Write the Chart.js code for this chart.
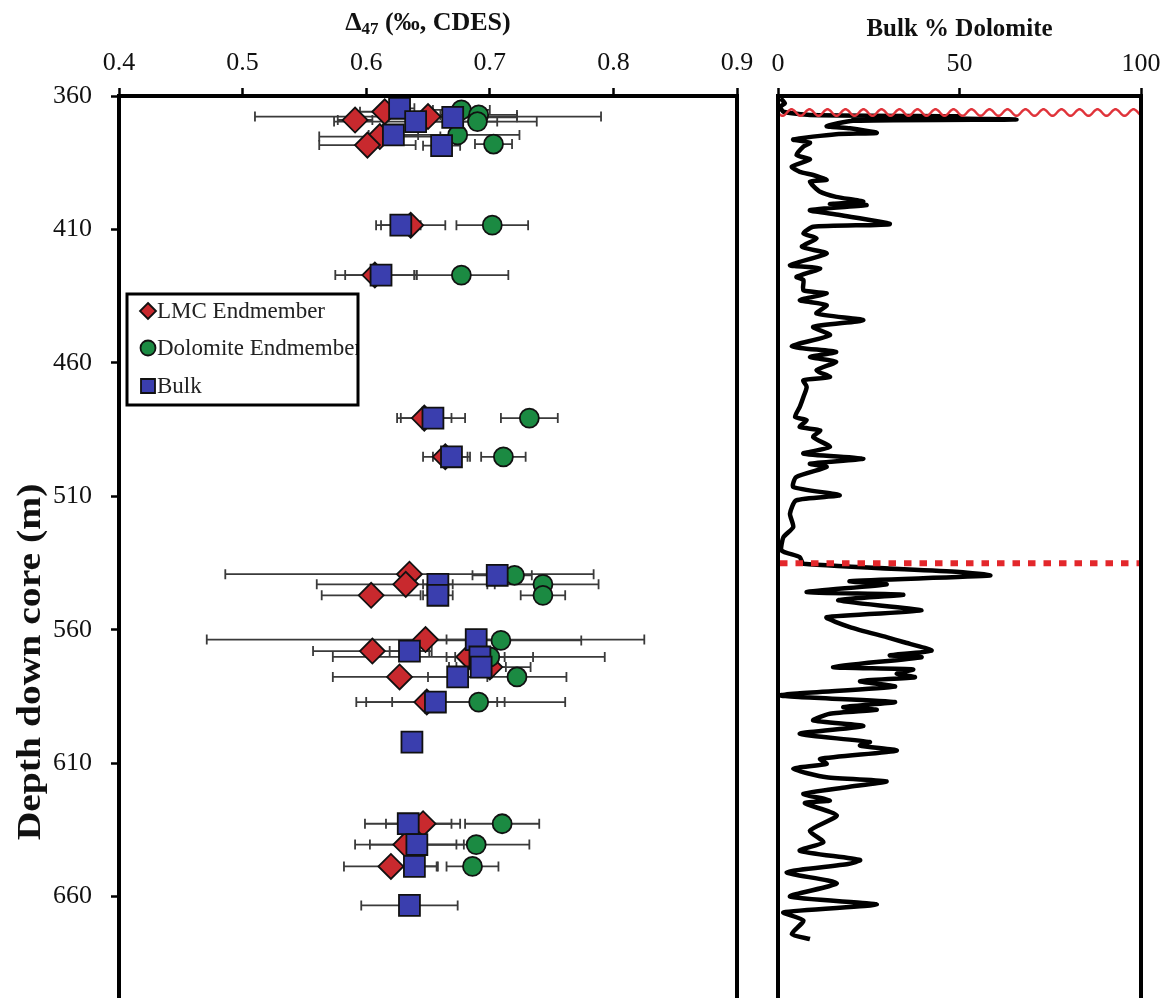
<!DOCTYPE html>
<html>
<head>
<meta charset="utf-8">
<title>Clumped isotopes vs depth</title>
<script src="https://cdn.jsdelivr.net/npm/chart.js@4.4.1/dist/chart.umd.min.js"></script>
<style>
    html, body { margin: 0; padding: 0; background: #fff; }
    #wrap { position: relative; width: 1165px; height: 998px; overflow: hidden; }
    .panel { position: absolute; top: 0; height: 998px; }
    #leftPanel { left: 0; width: 760px; }
    #rightPanel { left: 760px; width: 405px; }
</style>
</head>
<body>
<div id="wrap">
    <div class="panel" id="leftPanel"><canvas id="d47Chart"></canvas></div>
    <div class="panel" id="rightPanel"><canvas id="dolChart"></canvas></div>
</div>
<script>
// axes
const depthMin = 360;
const depthMax = 698;
const depthTicks = [360, 410, 460, 510, 560, 610, 660];
const d47Ticks = [0.4, 0.5, 0.6, 0.7, 0.8, 0.9];
const dolomiteTicks = [0, 50, 100];

// LMC endmember
const lmcDepth = [365.9, 367.7, 369.0, 375.2, 378.4, 408.4, 427.1, 480.7, 495.2, 539.2, 543.0, 547.1, 563.7, 568.0, 570.2, 574.0, 577.7, 587.1, 632.7, 640.5, 648.7];
const lmcD47   = [0.615, 0.650, 0.591, 0.611, 0.601, 0.636, 0.607, 0.647, 0.664, 0.635, 0.632, 0.604, 0.648, 0.605, 0.683, 0.700, 0.627, 0.649, 0.646, 0.632, 0.620];
const lmcErr   = [0.020, 0.140, 0.014, 0.049, 0.039, 0.028, 0.032, 0.022, 0.018, 0.149, 0.072, 0.040, 0.177, 0.048, 0.110, 0.033, 0.054, 0.057, 0.030, 0.041, 0.038];

// Dolomite endmember
const dolDepth = [365.2, 367.1, 369.6, 374.6, 378.0, 408.4, 427.1, 480.7, 495.2, 539.6, 543.0, 547.1, 564.0, 570.2, 577.7, 587.1, 632.7, 640.5, 648.7];
const dolD47   = [0.677, 0.691, 0.690, 0.674, 0.703, 0.702, 0.677, 0.732, 0.711, 0.720, 0.743, 0.743, 0.709, 0.700, 0.722, 0.691, 0.710, 0.689, 0.686];
const dolErr   = [0.023, 0.031, 0.048, 0.050, 0.015, 0.029, 0.038, 0.023, 0.018, 0.014, 0.045, 0.018, 0.065, 0.035, 0.040, 0.070, 0.030, 0.043, 0.021];

// Bulk
const bulkDepth = [364.6, 368.0, 369.6, 374.6, 378.6, 408.4, 427.1, 480.7, 495.2, 539.6, 543.0, 547.1, 563.7, 568.0, 570.2, 574.0, 577.7, 587.1, 602.1, 632.7, 640.5, 648.7, 663.3];
const bulkD47   = [0.627, 0.670, 0.640, 0.622, 0.661, 0.628, 0.612, 0.654, 0.669, 0.706, 0.658, 0.658, 0.689, 0.635, 0.692, 0.693, 0.674, 0.656, 0.637, 0.634, 0.641, 0.639, 0.635];
const bulkErr   = [0.012, 0.052, 0.066, 0.020, 0.015, 0.016, 0.029, 0.026, 0.015, 0.020, 0.012, 0.012, 0.024, 0.016, 0.020, 0.020, 0.024, 0.056, 0, 0.035, 0.038, 0.018, 0.039];

// bulk % dolomite log
const coreDepth = [360.9, 362.8, 364.0, 365.9, 367.1, 367.6, 367.9, 368.8, 369.3, 371.3,
    372.1, 373.8, 374.3, 376.3, 377.5, 379.0, 382.1, 383.8, 386.5, 388.4,
    389.6, 391.5, 392.1, 395.9, 397.8, 399.6, 400.5, 400.9, 402.8, 404.6,
    408.0, 409.0, 411.5, 413.4, 416.5, 419.0, 423.4, 424.6, 427.8, 429.0,
    432.8, 434.0, 436.5, 438.4, 441.5, 444.0, 446.5, 449.6, 453.8, 455.9,
    457.8, 459.6, 462.8, 465.3, 466.5, 469.0, 472.8, 476.5, 480.3, 481.5,
    484.0, 485.3, 487.8, 491.5, 494.0, 495.9, 497.8, 499.0, 502.8, 506.5,
    509.6, 511.5, 516.5, 521.5, 525.3, 530.3, 532.8, 535.3, 538.4, 539.7,
    541.8, 543.0, 545.9, 546.9, 549.0, 552.8, 555.3, 559.0, 562.8, 564.6,
    567.8, 569.6, 570.3, 574.0, 574.9, 576.5, 577.8, 579.3, 581.3, 584.6,
    587.1, 589.0, 590.0, 591.5, 594.0, 596.1, 599.0, 602.1, 603.4, 605.3,
    608.4, 610.3, 612.1, 615.3, 616.8, 619.0, 621.5, 624.0, 625.0, 629.6,
    635.3, 639.6, 642.8, 646.3, 647.8, 650.9, 655.0, 660.0, 663.0, 665.9,
    669.0, 674.0, 675.9];
const coreDolomite = [0.7, 1.9, 0.6, 1.5, 8.8, 50, 20.7, 65.7, 20.7, 13.4,
    19.8, 27.2, 16, 4.2, 8.8, 7.0, 5.1, 8.8, 3.8, 6.0,
    9.7, 13.4, 8.8, 11.6, 16.0, 23.5, 14.3, 24.4, 8.8, 17.0,
    30.8, 9.7, 7.0, 10.6, 6.6, 13.4, 3.3, 11.6, 5.1, 7,
    7, 13.4, 6, 13.4, 10.6, 23.5, 9.7, 14.3, 3.8, 16,
    8.8, 16, 10.6, 14.3, 7, 7.9, 7, 6, 4.7, 7.9,
    6, 11.6, 9.7, 14.3, 7, 23.5, 8.8, 13.4, 5, 4.2,
    17, 5, 3.3, 4.2, 1.5, 1, 6, 7, 50, 58.4,
    19.8, 29.9, 7.9, 34.5, 16.6, 39.5, 13.4, 19.8, 29.9, 34.5,
    42.3, 30.8, 39.5, 15.2, 37.2, 32.7, 37.7, 22.6, 32.2, 0.6,
    32.2, 18, 27.2, 14.3, 9.7, 23.5, 6, 25.3, 22.6, 32.7,
    11.6, 13.4, 4.2, 13.4, 29.9, 18.9, 7, 14.3, 7.4, 16.2,
    8.8, 12.5, 6, 22.6, 19.3, 2.4, 16.2, 3.3, 27.2, 1.5,
    7, 3.8, 8.8];

// horizons drawn across the dolomite log
const unconformityDepth = 366.2;
const boundaryDepth = 535.1;

const serif = '"Liberation Serif", "Times New Roman", serif';
const RED = '#c8292e';
const GREEN = '#1b8a42';
const BLUE = '#3a3eae';

Chart.defaults.font.family = serif;
Chart.defaults.color = '#111';

function toPoints(depths, values, errs) {
    return depths.map((d, i) => ({ x: values[i], y: d, err: errs ? errs[i] : 0 }));
}

// fixed axis boxes so both panels line up
function fitTop(s) {
    s.height = 96;
    s.paddingLeft = 0;
    s.paddingRight = 0;
}
function fitLeft(width) {
    return s => {
        s.width = width;
        s.paddingTop = 0;
        s.paddingBottom = 0;
    };
}

function drawFrame(chart) {
    const { ctx, chartArea: a } = chart;
    ctx.save();
    ctx.strokeStyle = '#000';
    ctx.lineWidth = 4;
    ctx.beginPath();
    ctx.moveTo(a.left, chart.height);
    ctx.lineTo(a.left, a.top);
    ctx.lineTo(a.right, a.top);
    ctx.lineTo(a.right, chart.height);
    ctx.stroke();
    ctx.restore();
}

const errorBarPlugin = {
    id: 'errorBars',
    beforeDatasetsDraw(chart) {
        const { ctx, scales: { x, y } } = chart;
        ctx.save();
        ctx.strokeStyle = '#3a3a3a';
        ctx.lineWidth = 1.8;
        chart.data.datasets.forEach(ds => {
            ds.data.forEach(p => {
                if (!p.err) return;
                const py = y.getPixelForValue(p.y);
                const x0 = x.getPixelForValue(p.x - p.err);
                const x1 = x.getPixelForValue(p.x + p.err);
                ctx.beginPath();
                ctx.moveTo(x0, py); ctx.lineTo(x1, py);
                ctx.moveTo(x0, py - 5); ctx.lineTo(x0, py + 5);
                ctx.moveTo(x1, py - 5); ctx.lineTo(x1, py + 5);
                ctx.stroke();
            });
        });
        ctx.restore();
    }
};

function drawMarker(ctx, style, x, y, r, fill) {
    ctx.beginPath();
    if (style === 'rectRot') {
        ctx.moveTo(x, y - r); ctx.lineTo(x + r, y); ctx.lineTo(x, y + r); ctx.lineTo(x - r, y);
        ctx.closePath();
    } else if (style === 'rect') {
        ctx.rect(x - r, y - r, 2 * r, 2 * r);
    } else {
        ctx.arc(x, y, r, 0, Math.PI * 2);
    }
    ctx.fillStyle = fill;
    ctx.fill();
    ctx.lineWidth = 1.8;
    ctx.strokeStyle = '#111';
    ctx.stroke();
}

const leftDecorPlugin = {
    id: 'leftDecor',
    afterDraw(chart) {
        const { ctx, chartArea: a, scales: { y } } = chart;
        drawFrame(chart);
        ctx.save();
        ctx.fillStyle = '#111';

        // depth tick labels (drawn here so they do not shrink the plot area)
        ctx.font = '26px ' + serif;
        ctx.textAlign = 'right';
        ctx.textBaseline = 'middle';
        depthTicks.forEach(t => ctx.fillText(String(t), a.left - 27, y.getPixelForValue(t)));

        ctx.textAlign = 'left';

        // title with subscript
        const big = 'bold 26px ' + serif;
        const small = 'bold 17px ' + serif;
        ctx.font = big;
        const w1 = ctx.measureText('\u0394').width;
        const w3 = ctx.measureText(' (\u2030, CDES)').width;
        ctx.font = small;
        const w2 = ctx.measureText('47').width;
        const tx = (a.left + a.right) / 2 - (w1 + w2 + w3) / 2;
        const ty = 23;
        ctx.font = big;
        ctx.fillText('\u0394', tx, ty);
        ctx.font = small;
        ctx.fillText('47', tx + w1, ty + 7);
        ctx.font = big;
        ctx.fillText(' (\u2030, CDES)', tx + w1 + w2, ty);

        // y axis title
        ctx.save();
        ctx.translate(31, 662);
        ctx.rotate(-Math.PI / 2);
        ctx.scale(1.2, 1);
        ctx.textAlign = 'center';
        ctx.font = 'bold 33px ' + serif;
        ctx.fillText('Depth down core (m)', 0, 0);
        ctx.restore();

        // legend box
        const lx = 127, ly = 294, lw = 231, lh = 111;
        ctx.fillStyle = '#fff';
        ctx.fillRect(lx, ly, lw, lh);
        const items = [
            { label: 'LMC Endmember', style: 'rectRot', r: 8, color: RED, y: 311 },
            { label: 'Dolomite Endmember', style: 'circle', r: 7.5, color: GREEN, y: 348 },
            { label: 'Bulk', style: 'rect', r: 7, color: BLUE, y: 386 }
        ];
        ctx.save();
        ctx.beginPath();
        ctx.rect(lx, ly, lw, lh);
        ctx.clip();
        items.forEach(it => {
            drawMarker(ctx, it.style, 148, it.y, it.r, it.color);
            ctx.fillStyle = '#222';
            ctx.font = '23px ' + serif;
            ctx.fillText(it.label, 157, it.y + 1);
        });
        ctx.restore();
        ctx.strokeStyle = '#000';
        ctx.lineWidth = 3;
        ctx.strokeRect(lx, ly, lw, lh);
        ctx.restore();
    }
};

const rightDecorPlugin = {
    id: 'rightDecor',
    afterDatasetsDraw(chart) {
        const { ctx, chartArea: a, scales: { y } } = chart;
        ctx.save();
        // wavy unconformity
        const wy = y.getPixelForValue(unconformityDepth);
        ctx.strokeStyle = '#e0333a';
        ctx.lineWidth = 2.4;
        ctx.beginPath();
        for (let px = a.left; px <= a.right; px += 1) {
            const yy = wy + 3.3 * Math.sin((px - a.left) / 18 * 2 * Math.PI);
            if (px === a.left) ctx.moveTo(px, yy); else ctx.lineTo(px, yy);
        }
        ctx.stroke();
        // dashed boundary
        const by = y.getPixelForValue(boundaryDepth);
        ctx.strokeStyle = '#e3272b';
        ctx.lineWidth = 6;
        ctx.setLineDash([7.5, 8]);
        ctx.beginPath();
        ctx.moveTo(a.left + 2, by);
        ctx.lineTo(a.right, by);
        ctx.stroke();
        ctx.restore();
    },
    afterDraw(chart) {
        const { ctx, chartArea: a } = chart;
        drawFrame(chart);
        ctx.save();
        ctx.fillStyle = '#111';
        ctx.textAlign = 'center';
        ctx.textBaseline = 'middle';
        ctx.font = 'bold 25px ' + serif;
        ctx.fillText('Bulk % Dolomite', (a.left + a.right) / 2, 30);
        ctx.restore();
    }
};

const tickFont = { family: serif, size: 26 };

new Chart(document.getElementById('d47Chart').getContext('2d'), {
    type: 'scatter',
    data: {
        datasets: [
            {
                label: 'LMC Endmember',
                data: toPoints(lmcDepth, lmcD47, lmcErr),
                pointStyle: 'rectRot',
                pointRadius: 12.5,
                backgroundColor: RED,
                borderColor: '#111',
                borderWidth: 1.8,
                order: 2
            },
            {
                label: 'Dolomite Endmember',
                data: toPoints(dolDepth, dolD47, dolErr),
                pointStyle: 'circle',
                pointRadius: 9.5,
                backgroundColor: GREEN,
                borderColor: '#111',
                borderWidth: 1.8,
                order: 1
            },
            {
                label: 'Bulk',
                data: toPoints(bulkDepth, bulkD47, bulkErr),
                pointStyle: 'rect',
                pointRadius: 14.8,
                backgroundColor: BLUE,
                borderColor: '#111',
                borderWidth: 1.8,
                order: 0
            }
        ]
    },
    options: {
        responsive: true,
        maintainAspectRatio: false,
        animation: false,
        layout: { autoPadding: false, padding: { left: 0, right: 23, top: 0, bottom: 0 } },
        plugins: { legend: { display: false }, tooltip: { enabled: false } },
        scales: {
            x: {
                type: 'linear',
                position: 'top',
                min: 0.4,
                max: 0.9,
                afterBuildTicks: s => { s.ticks = d47Ticks.map(v => ({ value: v })); },
                afterFit: fitTop,
                ticks: { font: tickFont, color: '#111', padding: 9, autoSkip: false, maxRotation: 0, callback: v => v.toFixed(1) },
                grid: { drawOnChartArea: false, tickLength: 8, tickWidth: 2.5, tickColor: '#000' },
                border: { display: false }
            },
            y: {
                type: 'linear',
                reverse: true,
                min: depthMin,
                max: depthMax,
                afterBuildTicks: s => { s.ticks = depthTicks.map(v => ({ value: v })); },
                afterFit: fitLeft(119),
                ticks: { display: false },
                grid: { drawOnChartArea: false, tickLength: 8, tickWidth: 2.5, tickColor: '#000' },
                border: { display: false }
            }
        }
    },
    plugins: [errorBarPlugin, leftDecorPlugin]
});

new Chart(document.getElementById('dolChart').getContext('2d'), {
    type: 'scatter',
    data: {
        datasets: [{
            label: 'Bulk % Dolomite',
            data: toPoints(coreDepth, coreDolomite),
            showLine: true,
            borderColor: '#000',
            borderWidth: 4.5,
            pointRadius: 0,
            tension: 0.2
        }]
    },
    options: {
        responsive: true,
        maintainAspectRatio: false,
        animation: false,
        layout: { autoPadding: false, padding: { left: 0, right: 24, top: 0, bottom: 0 } },
        plugins: { legend: { display: false }, tooltip: { enabled: false } },
        scales: {
            x: {
                type: 'linear',
                position: 'top',
                min: 0,
                max: 100,
                afterBuildTicks: s => { s.ticks = dolomiteTicks.map(v => ({ value: v })); },
                afterFit: fitTop,
                ticks: { font: tickFont, color: '#111', padding: 8, autoSkip: false, maxRotation: 0 },
                grid: { drawOnChartArea: false, tickLength: 8, tickWidth: 2.5, tickColor: '#000' },
                border: { display: false }
            },
            y: {
                type: 'linear',
                reverse: true,
                min: depthMin,
                max: depthMax,
                afterFit: fitLeft(18),
                ticks: { display: false },
                grid: { display: false },
                border: { display: false }
            }
        }
    },
    plugins: [rightDecorPlugin]
});
</script>
</body>
</html>
